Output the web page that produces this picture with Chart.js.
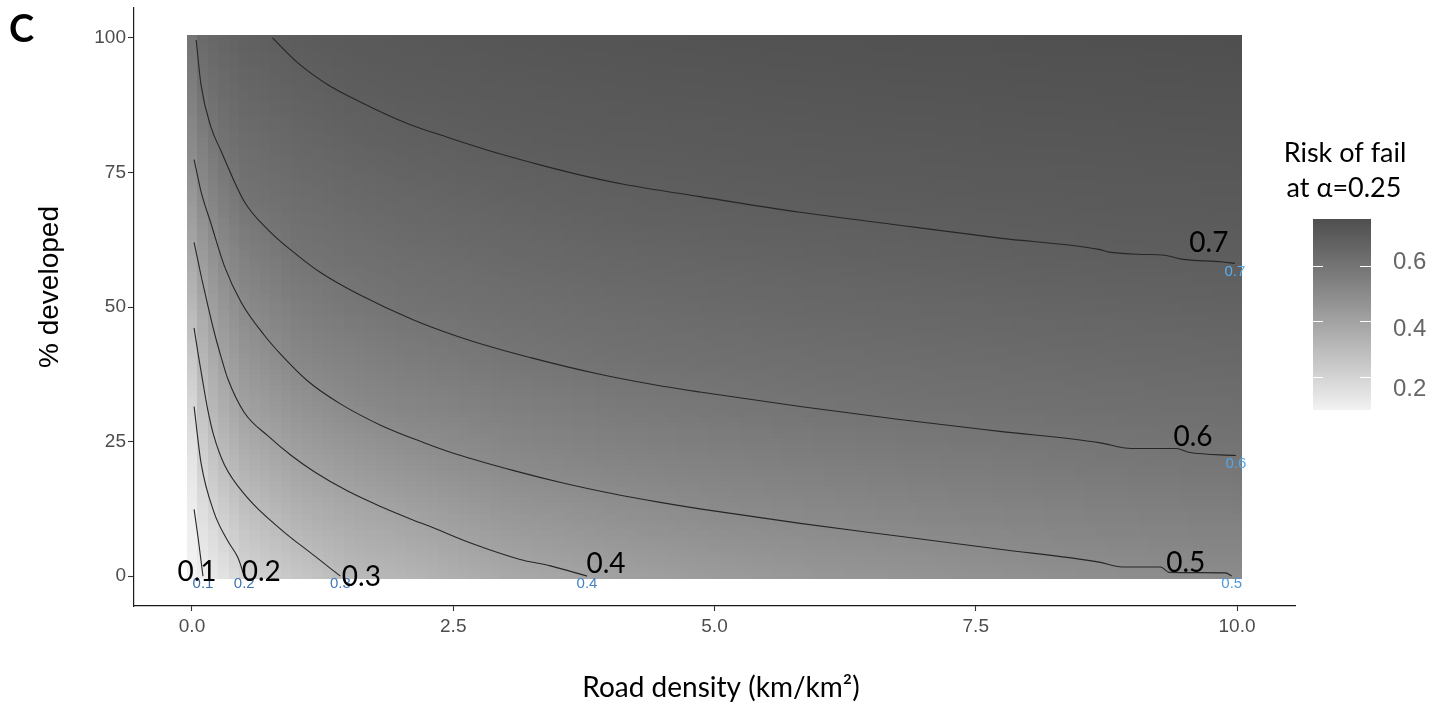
<!DOCTYPE html>
<html>
<head>
<meta charset="utf-8">
<title>Risk of fail</title>
<script src="https://cdn.jsdelivr.net/npm/chart.js@4.4.1/dist/chart.umd.min.js"></script>
<style>
  html, body { margin: 0; padding: 0; background: #fff; }
  #wrap { width: 1450px; height: 704px; }
</style>
</head>
<body>
<div id="wrap"><canvas id="riskChart" width="1450" height="704"></canvas></div>
<script>
// risk surface sampled on a grid: columns = road density, rows = % developed
const roadDensity = [0, 0.1, 0.25, 0.5, 1, 1.5, 2, 3, 4, 5, 6, 7, 8, 9, 10];
const pctDeveloped = [0, 10, 20, 30, 40, 50, 60, 70, 80, 90, 100];
const riskGrid = [
  [0.080, 0.098, 0.130, 0.200, 0.253, 0.303, 0.322, 0.375, 0.406, 0.430, 0.451, 0.464, 0.479, 0.490, 0.500],
  [0.093, 0.148, 0.196, 0.264, 0.325, 0.364, 0.388, 0.437, 0.466, 0.489, 0.503, 0.515, 0.526, 0.536, 0.545],
  [0.126, 0.201, 0.270, 0.330, 0.391, 0.426, 0.455, 0.498, 0.521, 0.536, 0.549, 0.561, 0.571, 0.581, 0.589],
  [0.177, 0.261, 0.332, 0.397, 0.454, 0.492, 0.515, 0.544, 0.567, 0.582, 0.595, 0.604, 0.610, 0.616, 0.621],
  [0.239, 0.319, 0.386, 0.449, 0.512, 0.540, 0.560, 0.590, 0.608, 0.617, 0.625, 0.632, 0.638, 0.644, 0.649],
  [0.309, 0.374, 0.439, 0.500, 0.556, 0.585, 0.603, 0.622, 0.635, 0.644, 0.653, 0.659, 0.666, 0.672, 0.677],
  [0.377, 0.433, 0.493, 0.549, 0.601, 0.618, 0.631, 0.649, 0.663, 0.672, 0.680, 0.687, 0.694, 0.700, 0.703],
  [0.442, 0.496, 0.546, 0.602, 0.628, 0.646, 0.659, 0.677, 0.691, 0.699, 0.705, 0.709, 0.713, 0.717, 0.720],
  [0.505, 0.548, 0.598, 0.630, 0.656, 0.674, 0.687, 0.703, 0.711, 0.716, 0.722, 0.726, 0.730, 0.733, 0.737],
  [0.550, 0.599, 0.633, 0.659, 0.684, 0.701, 0.709, 0.720, 0.728, 0.733, 0.738, 0.742, 0.746, 0.750, 0.753],
  [0.595, 0.645, 0.663, 0.685, 0.707, 0.718, 0.726, 0.737, 0.744, 0.750, 0.755, 0.759, 0.763, 0.766, 0.770]
];
const riskLimits = [0.08, 0.77];

// contour lines, [road density, % developed]
const contourLevels = [0.1, 0.2, 0.3, 0.4, 0.5, 0.6, 0.7];
const contour01 = [[0.02, 12.4], [0.06, 6.9], [0.105, 0]];
const contour02 = [[0.02, 31.5], [0.086, 21.1], [0.21, 11.9], [0.34, 6.6], [0.44, 3.4], [0.50, 0]];
const contour03 = [[0.02, 46.1], [0.06, 41.1], [0.10, 36.5], [0.15, 31.0], [0.21, 26.0], [0.31, 20.7],
  [0.53, 14.6], [0.85, 8.7], [1.17, 3.8], [1.42, 0]];
const contour04 = [[0.02, 62.0], [0.086, 55.9], [0.15, 50.4], [0.22, 44.8], [0.28, 40.6], [0.34, 36.8],
  [0.50, 30.4], [0.73, 26.0], [0.95, 22.4], [1.17, 19.4], [1.49, 15.8], [1.81, 12.9], [2.12, 10.4],
  [2.28, 9.2], [2.66, 6.2], [3.14, 3.1], [3.43, 1.9], [3.78, 0]];
const contour05 = [[0.02, 77.4], [0.086, 71.5], [0.18, 65.6], [0.31, 57.6], [0.47, 50.9], [0.69, 44.8],
  [0.85, 41.2], [1.11, 36.2], [1.42, 32.0], [1.81, 28.0], [2.22, 24.8], [2.54, 22.6], [3.08, 19.6],
  [3.55, 17.3], [4.03, 15.3], [4.48, 13.7], [4.86, 12.5], [5.82, 9.8], [6.77, 7.4], [7.73, 5.0],
  [8.68, 2.6], [8.90, 1.7], [9.27, 1.7], [9.35, 0.7], [9.89, 0.6], [9.95, 0]];
const contour06 = [[0.04, 99.6], [0.086, 91.3], [0.18, 83.5], [0.28, 78.9], [0.50, 69.6], [0.73, 64.3],
  [1.01, 59.6], [1.23, 56.4], [1.59, 52.4], [2.12, 47.6], [2.69, 43.6], [3.24, 40.6], [3.88, 37.6],
  [4.41, 35.6], [4.86, 34.2], [5.82, 31.5], [6.77, 29.1], [7.73, 26.9], [8.68, 24.8], [8.99, 23.7],
  [9.42, 23.7], [9.54, 23.0], [9.99, 22.4]];
const contour07 = [[0.77, 100], [1.01, 95.4], [1.30, 91.3], [1.61, 88.1], [2.06, 84.1], [2.45, 81.5],
  [2.92, 78.6], [3.33, 76.4], [3.72, 74.5], [4.13, 72.8], [4.86, 70.5], [5.82, 67.6], [6.77, 65.2],
  [7.73, 62.8], [8.68, 60.7], [8.78, 60.2], [9.06, 59.8], [9.31, 59.6], [9.47, 58.9], [9.85, 58.4], [9.98, 58.1]];
const contourLines = [contour01, contour02, contour03, contour04, contour05, contour06, contour07];

const xTicks = [0, 2.5, 5, 7.5, 10];
const yTicks = [0, 25, 50, 75, 100];
const legendTicks = [0.2, 0.4, 0.6];

// styling
const fillLow = 242, fillHigh = 79;
const labelFont = 'Lato, "Open Sans", sans-serif';
const axisFont = '"Liberation Sans", Arial, sans-serif';
// big black label offsets from each line's end (px)
const bigLabelOffset = [[-6, -4], [17, -4], [21, 1], [19, -12], [-46, -13], [-43, -19], [-26, -20]];
const smallLabelColor = ['#3d6fa6', '#3f74ae', '#4279b6', '#4682c2', '#4f98d8', '#55a5e8', '#58aef2'];
const legendBox = { left: 1313, width: 58, top: 219, bottom: 410 };
const legendLabelNudge = [12, 8, -4];

// grey ramp interpolated in lightness
function toLinear(c) { c /= 255; return c <= 0.04045 ? c / 12.92 : Math.pow((c + 0.055) / 1.055, 2.4); }
function lightness(g) { const Y = toLinear(g); return Y > 0.008856 ? 116 * Math.cbrt(Y) - 16 : 903.3 * Y; }
function fromLightness(L) {
  const Y = L > 8 ? Math.pow((L + 16) / 116, 3) : L / 903.3;
  const c = Y <= 0.0031308 ? 12.92 * Y : 1.055 * Math.pow(Y, 1 / 2.4) - 0.055;
  return Math.max(0, Math.min(255, Math.round(c * 255)));
}
const lowL = lightness(fillLow), highL = lightness(fillHigh);
function greyFor(v) {
  let t = (v - riskLimits[0]) / (riskLimits[1] - riskLimits[0]);
  t = Math.max(0, Math.min(1, t));
  return fromLightness(lowL + (highL - lowL) * t);
}

function bracket(arr, v) {
  let i = 0;
  while (i < arr.length - 2 && v > arr[i + 1]) i++;
  const f = (v - arr[i]) / (arr[i + 1] - arr[i]);
  return [i, Math.max(0, Math.min(1, f))];
}
function riskAt(xv, yv) {
  const [i, fx] = bracket(roadDensity, xv);
  const [j, fy] = bracket(pctDeveloped, yv);
  const a = riskGrid[j][i], b = riskGrid[j][i + 1];
  const c = riskGrid[j + 1][i], d = riskGrid[j + 1][i + 1];
  return (a * (1 - fx) + b * fx) * (1 - fy) + (c * (1 - fx) + d * fx) * fy;
}

// raster of 0.1 x 1 tiles behind the contour lines
const heatmapPlugin = {
  id: 'heatmap',
  beforeDatasetsDraw(chart) {
    const { ctx, scales: { x, y } } = chart;
    const left = Math.round(x.getPixelForValue(-0.05));
    const right = Math.round(x.getPixelForValue(10.05));
    const top = Math.round(y.getPixelForValue(100.5));
    const bottom = Math.round(y.getPixelForValue(-0.5));
    const w = right - left, h = bottom - top;
    const off = document.createElement('canvas');
    off.width = w; off.height = h;
    const octx = off.getContext('2d');
    const img = octx.createImageData(w, h);
    const colX = [];
    for (let i = 0; i < w; i++) {
      const xv = x.getValueForPixel(left + i + 0.5);
      colX.push(Math.round(Math.max(0, Math.min(10, xv)) * 10) / 10);
    }
    for (let j = 0; j < h; j++) {
      const yv = Math.round(Math.max(0, Math.min(100, y.getValueForPixel(top + j + 0.5))));
      for (let i = 0; i < w; i++) {
        const g = greyFor(riskAt(colX[i], yv));
        const k = (j * w + i) * 4;
        img.data[k] = g; img.data[k + 1] = g; img.data[k + 2] = g; img.data[k + 3] = 255;
      }
    }
    octx.putImageData(img, 0, 0);
    ctx.drawImage(off, left, top);
  }
};

// level labels at the end of each contour
const contourLabelPlugin = {
  id: 'contourLabels',
  afterDatasetsDraw(chart) {
    const { ctx, scales: { x, y } } = chart;
    ctx.save();
    contourLines.forEach((line, k) => {
      const end = line[line.length - 1];
      const px = x.getPixelForValue(end[0]);
      const py = y.getPixelForValue(end[1]);
      const text = contourLevels[k].toFixed(1);
      ctx.textAlign = 'center';
      ctx.textBaseline = 'middle';
      ctx.font = '15px ' + axisFont;
      ctx.fillStyle = smallLabelColor[k];
      ctx.fillText(text, px, py + 8);
      ctx.font = '28px ' + labelFont;
      ctx.fillStyle = '#000';
      ctx.fillText(text, px + bigLabelOffset[k][0], py + bigLabelOffset[k][1]);
    });
    ctx.restore();
  }
};

// axis titles, colour bar and panel letter
const decorPlugin = {
  id: 'decor',
  afterDraw(chart) {
    const { ctx } = chart;
    ctx.save();
    ctx.fillStyle = '#000';
    ctx.textBaseline = 'middle';

    ctx.font = 'bold 38px ' + labelFont;
    ctx.textAlign = 'left';
    ctx.fillText('C', 9, 30);

    ctx.textAlign = 'center';
    ctx.font = '28px ' + labelFont;
    ctx.fillText('Road density (km/km²)', 721, 688);

    ctx.save();
    ctx.translate(50, 287);
    ctx.rotate(-Math.PI / 2);
    ctx.font = '28px ' + axisFont;
    ctx.fillText('% developed', 0, 0);
    ctx.restore();

    // colour bar
    ctx.font = '27px ' + labelFont;
    ctx.textBaseline = 'alphabetic';
    ctx.fillText('Risk of fail', 1345, 162);
    ctx.fillText('at α=0.25', 1344, 197);

    const lb = legendBox;
    const grad = ctx.createLinearGradient(0, lb.bottom, 0, lb.top);
    for (let s = 0; s <= 20; s++) {
      const v = riskLimits[0] + (riskLimits[1] - riskLimits[0]) * s / 20;
      const g = greyFor(v);
      grad.addColorStop(s / 20, `rgb(${g},${g},${g})`);
    }
    ctx.fillStyle = grad;
    ctx.fillRect(lb.left, lb.top, lb.width, lb.bottom - lb.top);

    ctx.strokeStyle = '#fff';
    ctx.lineWidth = 1.2;
    ctx.font = '24px ' + axisFont;
    ctx.textAlign = 'left';
    ctx.textBaseline = 'middle';
    legendTicks.forEach((v, k) => {
      const t = (v - riskLimits[0]) / (riskLimits[1] - riskLimits[0]);
      const py = Math.round(lb.bottom - t * (lb.bottom - lb.top)) + 0.5;
      ctx.beginPath();
      ctx.moveTo(lb.left, py); ctx.lineTo(lb.left + 10, py);
      ctx.moveTo(lb.left + lb.width - 11, py); ctx.lineTo(lb.left + lb.width, py);
      ctx.stroke();
      ctx.fillStyle = '#666';
      ctx.fillText(v.toFixed(1), lb.left + lb.width + 22, py + legendLabelNudge[k]);
    });
    ctx.restore();
  }
};

// keep the panel exactly inside the layout box
function noPadding(s) {
  s.paddingTop = 0; s.paddingBottom = 0; s.paddingLeft = 0; s.paddingRight = 0;
}

const ctx = document.getElementById('riskChart').getContext('2d');
const riskChart = new Chart(ctx, {
  type: 'scatter',
  data: {
    datasets: contourLines.map((line, k) => ({
      label: contourLevels[k].toFixed(1),
      data: line.map(p => ({ x: p[0], y: p[1] })),
      showLine: true,
      borderColor: '#262626',
      borderWidth: 1.1,
      pointRadius: 0,
      fill: false,
      cubicInterpolationMode: 'monotone'
    }))
  },
  options: {
    responsive: false,
    animation: false,
    events: [],
    layout: { padding: { top: 8, right: 155, left: 0, bottom: 0 } },
    plugins: { legend: { display: false }, tooltip: { enabled: false } },
    scales: {
      x: {
        type: 'linear',
        min: -0.555,
        max: 10.555,
        afterBuildTicks: s => { s.ticks = xTicks.map(v => ({ value: v })); },
        afterFit: s => { s.height = 98; noPadding(s); },
        ticks: {
          callback: v => v.toFixed(1),
          color: '#4d4d4d',
          font: { family: axisFont, size: 19 },
          padding: 4,
          maxRotation: 0
        },
        grid: { drawOnChartArea: false, drawTicks: true, tickLength: 5, tickColor: '#333', tickWidth: 1.1 },
        border: { display: true, color: '#1a1a1a', width: 1.2 }
      },
      y: {
        type: 'linear',
        min: -5.55,
        max: 105.55,
        afterBuildTicks: s => { s.ticks = yTicks.map(v => ({ value: v })); },
        afterFit: s => { s.width = 134; noPadding(s); },
        ticks: {
          color: '#4d4d4d',
          font: { family: axisFont, size: 19 },
          padding: 2
        },
        grid: { drawOnChartArea: false, drawTicks: true, tickLength: 6, tickColor: '#333', tickWidth: 1.1 },
        border: { display: true, color: '#1a1a1a', width: 1.2 }
      }
    }
  },
  plugins: [heatmapPlugin, contourLabelPlugin, decorPlugin]
});
</script>
</body>
</html>
